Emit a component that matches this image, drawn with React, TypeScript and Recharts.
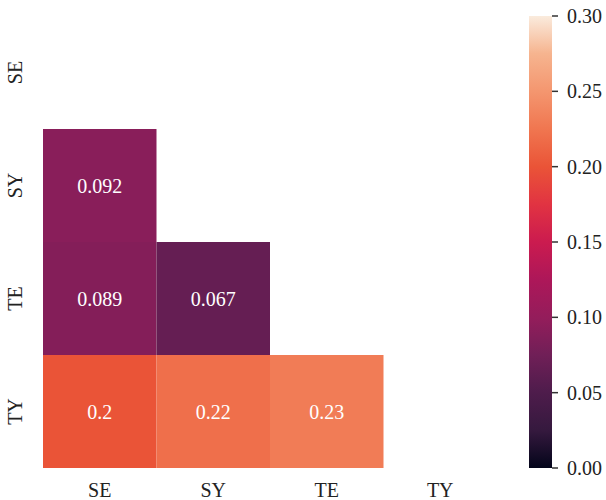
import React from 'react';
import {
  ScatterChart,
  XAxis,
  YAxis,
  ReferenceArea,
  BarChart,
  Bar,
} from 'recharts';

// Variable names shared by both axes
const categories = ['SE', 'SY', 'TE', 'TY'];

// Lower-triangle values, one array per row (diagonal and above are masked)
const rowSE: number[] = [];
const rowSY: number[] = [0.092];
const rowTE: number[] = [0.089, 0.067];
const rowTY: number[] = [0.2, 0.22, 0.23];
const matrixRows = [rowSE, rowSY, rowTE, rowTY];

// Color scale range and colorbar ticks
const vmin = 0;
const vmax = 0.3;
const colorbarTicks = [0, 0.05, 0.1, 0.15, 0.2, 0.25, 0.3];

// "rocket" colormap anchor colors
const rocketStops: [number, string][] = [
  [0.0, '#03051a'],
  [0.083, '#35193e'],
  [0.17, '#4f1c4c'],
  [0.25, '#701f57'],
  [0.33, '#931d5b'],
  [0.417, '#ad1759'],
  [0.5, '#cb1b4f'],
  [0.583, '#e13342'],
  [0.667, '#ea5437'],
  [0.75, '#f07650'],
  [0.833, '#f4966f'],
  [0.917, '#f6b48f'],
  [1.0, '#faebdd'],
];

const hexToRgb = (h: string) => [
  parseInt(h.slice(1, 3), 16),
  parseInt(h.slice(3, 5), 16),
  parseInt(h.slice(5, 7), 16),
];

const rocket = (t: number) => {
  const u = Math.max(0, Math.min(1, t));
  for (let i = 1; i < rocketStops.length; i++) {
    const [p1, c1] = rocketStops[i];
    const [p0, c0] = rocketStops[i - 1];
    if (u <= p1) {
      const f = (u - p0) / (p1 - p0);
      const a = hexToRgb(c0);
      const b = hexToRgb(c1);
      const m = a.map((v, k) => Math.round(v + (b[k] - v) * f));
      return `rgb(${m[0]},${m[1]},${m[2]})`;
    }
  }
  return rocketStops[rocketStops.length - 1][1];
};

const colorOf = (v: number) => rocket((v - vmin) / (vmax - vmin));

const FONT = '"Liberation Serif", "DejaVu Serif", serif';
const TEXT = '#222';

const cells = matrixRows.flatMap((row, r) =>
  row.map((value, c) => ({ row: r, col: c, value }))
);

const tickPositions = categories.map((_, i) => i + 0.5);

const YTick = (props: any) => {
  const { x, y, payload } = props;
  const lx = x - 21;
  return (
    <text
      x={lx}
      y={y}
      transform={`rotate(-90, ${lx}, ${y})`}
      textAnchor="middle"
      fill={TEXT}
      fontSize={20}
      fontFamily={FONT}
    >
      {categories[Math.floor(payload.value)]}
    </text>
  );
};

const colorbarData = [{ name: 'scale', value: vmax }];

export default function App() {
  return (
    <div style={{ position: 'absolute', left: 0, top: 0, width: 606, height: 500, background: '#fff' }}>
      <div style={{ position: 'absolute', left: 0, top: 0 }}>
        <ScatterChart width={520} height={500} margin={{ top: 16, right: 23, bottom: 0, left: 0 }}>
          <XAxis
            type="number"
            dataKey="x"
            domain={[0, 4]}
            ticks={tickPositions}
            tickFormatter={(v: number) => categories[Math.floor(v)]}
            axisLine={false}
            tickLine={false}
            tickSize={0}
            tickMargin={15}
            height={32}
            tick={{ fill: TEXT, fontSize: 20, fontFamily: FONT }}
            allowDataOverflow
          />
          <YAxis
            type="number"
            dataKey="y"
            domain={[0, 4]}
            reversed
            ticks={tickPositions}
            axisLine={false}
            tickLine={false}
            tickSize={0}
            tickMargin={0}
            width={43}
            tick={<YTick />}
            allowDataOverflow
          />
          {cells.map((d) => (
            <ReferenceArea
              key={`${d.row}-${d.col}`}
              x1={d.col}
              x2={d.col + 1}
              y1={d.row}
              y2={d.row + 1}
              fill={colorOf(d.value)}
              fillOpacity={1}
              stroke="none"
              ifOverflow="visible"
              label={{
                value: String(d.value),
                position: 'center',
                fill: '#ffffff',
                fontSize: 20,
                fontFamily: FONT,
              }}
            />
          ))}
        </ScatterChart>
      </div>
      <div style={{ position: 'absolute', left: 529, top: 0 }}>
        <BarChart
          width={77}
          height={500}
          data={colorbarData}
          margin={{ top: 16, right: 0, bottom: 32, left: 0 }}
          barCategoryGap={0}
        >
          <defs>
            <linearGradient id="rocketGrad" x1="0" y1="1" x2="0" y2="0">
              {rocketStops.map(([p, c]) => (
                <stop key={p} offset={`${p * 100}%`} stopColor={c} />
              ))}
            </linearGradient>
          </defs>
          <XAxis dataKey="name" hide />
          <YAxis
            orientation="right"
            type="number"
            domain={[vmin, vmax]}
            ticks={colorbarTicks}
            tickFormatter={(v: number) => v.toFixed(2)}
            axisLine={false}
            tickLine={{ stroke: '#333', strokeWidth: 1.5 }}
            tickSize={6}
            tickMargin={9}
            width={54}
            tick={{ fill: TEXT, fontSize: 20, fontFamily: FONT }}
            interval={0}
          />
          <Bar dataKey="value" fill="url(#rocketGrad)" isAnimationActive={false} />
        </BarChart>
      </div>
    </div>
  );
}
